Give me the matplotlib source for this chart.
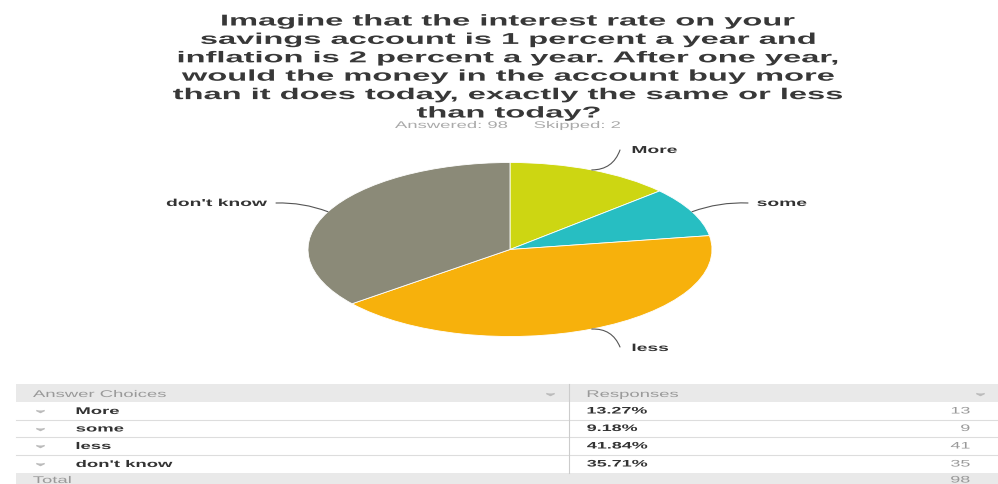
import numpy as np
import matplotlib
matplotlib.use('Agg')
import matplotlib.pyplot as plt
from matplotlib.patheffects import AbstractPathEffect
from matplotlib.transforms import Affine2D
from matplotlib.path import Path

# survey data
title_lines = [
    "Imagine that the interest rate on your",
    "savings account is 1 percent a year and",
    "inflation is 2 percent a year. After one year,",
    "would the money in the account buy more",
    "than it does today, exactly the same or less",
    "than today?",
]
answered = 98
skipped = 2
choices = ['More', 'some', 'less', "don't know"]
counts = [13, 9, 41, 35]
colors = ['#cdd612', '#27bec2', '#f7b10c', '#8b8a78']


class Stretch(AbstractPathEffect):
    # the screenshot is squeezed wide, so widen the glyphs the same way
    def __init__(self, sx=1.9, anchor='center'):
        super().__init__()
        self.sx = sx
        self.anchor = anchor

    def draw_path(self, renderer, gc, tpath, affine, rgbFace=None):
        v = tpath.vertices
        if tpath.codes is not None:
            v = v[tpath.codes != Path.CLOSEPOLY]
        if len(v) == 0:
            return
        x0, x1 = v[:, 0].min(), v[:, 0].max()
        ref = {'left': x0, 'center': (x0 + x1) / 2, 'right': x1}[self.anchor]
        t = Affine2D().translate(-ref, 0).scale(self.sx, 1).translate(ref, 0) + affine
        renderer.draw_path(gc, tpath, t, rgbFace)


def st(anchor, sx=1.9):
    return [Stretch(sx, anchor)]


font = 'Liberation Sans'
fig = plt.figure(figsize=(9.98, 4.84), dpi=100)

# overlay axes in pixel units (y down)
ax = fig.add_axes([0, 0, 1, 1])
ax.set_xlim(0, 998)
ax.set_ylim(484, 0)
ax.axis('off')

# title
for i, line in enumerate(title_lines):
    ax.text(509, 21 + i * 18.4, line, ha='center', va='center', fontsize=11.3,
            fontweight='bold', color='#383838', family=font, path_effects=st('center', 2.08))
ax.text(395, 125, f"Answered: {answered}", ha='left', va='center', fontsize=7,
        color='#aaaaaa', family=font, path_effects=st('left'))
ax.text(534, 125, f"Skipped: {skipped}", ha='left', va='center', fontsize=7,
        color='#aaaaaa', family=font, path_effects=st('left'))

# pie
cx, cy, rx, ry = 510, 249.5, 202, 87
axp = fig.add_axes([(cx - rx) / 998, (484 - cy - ry) / 484, 2 * rx / 998, 2 * ry / 484])
wedges, _ = axp.pie(counts, colors=colors, startangle=90, counterclock=False,
                    wedgeprops=dict(edgecolor='white', linewidth=0.6))
axp.set_aspect('auto')
axp.set_xlim(-1, 1)
axp.set_ylim(-1, 1)

# label layout: (line end, text pos, ha, curvature)
label_layout = {
    'More': ((620, 150), (632, 150), 'left', -0.35),
    'some': ((748, 203), (757, 203), 'left', 0.1),
    'less': ((620, 347), (632, 348), 'left', 0.35),
    "don't know": ((276, 203), (267, 203), 'right', -0.1),
}
for w, name in zip(wedges, choices):
    mid = np.deg2rad((w.theta1 + w.theta2) / 2)
    end, tpos, ha, rad = label_layout[name]
    axp.annotate('', xy=(np.cos(mid), np.sin(mid)), xytext=end, textcoords=ax.transData,
                 arrowprops=dict(arrowstyle='-', color='#555555', lw=0.8,
                                 shrinkA=0, shrinkB=0,
                                 connectionstyle=f'arc3,rad={rad}'),
                 annotation_clip=False)
    ax.text(tpos[0], tpos[1], name, ha=ha, va='center', fontsize=7.3, fontweight='bold',
            color='#333333', family=font, path_effects=st(ha))

# table
left, right, split = 16, 998, 569
row_top = [402, 420, 437, 455]
row_h = [18, 17, 18, 18]
ax.fill_between([left, right], 384, 402, color='#e9e9e9', lw=0)
ax.fill_between([left, right], 473, 484, color='#e9e9e9', lw=0)
for y in [420, 437, 455]:
    ax.plot([left, right], [y, y], color='#dddddd', lw=0.8)
ax.plot([split, split], [384, 473], color='#cccccc', lw=0.8)

chevron = [(-1, 0.25), (0, -0.25), (1, 0.25)]
ax.text(33, 394, 'Answer Choices', ha='left', va='center', fontsize=7, color='#999999',
        family=font, path_effects=st('left'))
ax.text(587, 394, 'Responses', ha='left', va='center', fontsize=7, color='#999999',
        family=font, path_effects=st('left'))
ax.plot([550, 980], [394, 394], ls='none', marker=chevron, ms=6, color='#bbbbbb')

total = sum(counts)
for i, (name, n) in enumerate(zip(choices, counts)):
    y = row_top[i] + row_h[i] / 2
    ax.plot([40], [y], marker=chevron, ms=6, color='#bbbbbb')
    ax.text(76, y, name, ha='left', va='center', fontsize=7, fontweight='bold',
            color='#333333', family=font, path_effects=st('left'))
    ax.text(587, y, f"{n / total * 100:.2f}%", ha='left', va='center', fontsize=6.8,
            fontweight='bold', color='#333333', family=font, path_effects=st('left'))
    ax.text(970, y, str(n), ha='right', va='center', fontsize=6.8, color='#999999',
            family=font, path_effects=st('right'))
ax.text(33, 480, 'Total', ha='left', va='center', fontsize=7, color='#999999',
        family=font, path_effects=st('left'))
ax.text(970, 480, str(total), ha='right', va='center', fontsize=6.8, color='#999999',
        family=font, path_effects=st('right'))

fig.savefig('out.png', dpi=100, facecolor='white')
